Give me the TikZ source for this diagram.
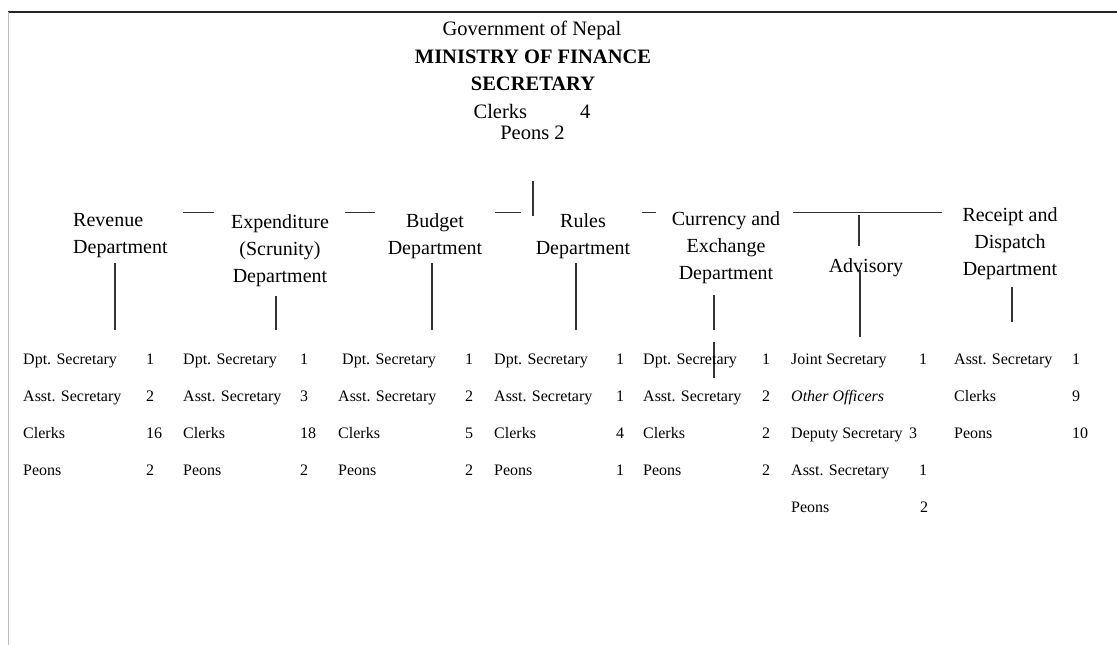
\documentclass[tikz,border=0pt]{standalone}
\usepackage{fontspec}
\setmainfont{Liberation Serif}
\usetikzlibrary{positioning}

\tikzset{
  orgline/.style={line width=1.1pt, black!80},
  headtxt/.style={inner sep=0pt, font=\fontsize{20.5}{27}\selectfont},
  depttxt/.style={inner sep=0pt, align=center, font=\fontsize{20}{27}\selectfont},
  cell/.style={anchor=west, inner sep=0pt, text height=11pt, text depth=3.5pt,
               font=\fontsize{16}{19}\selectfont},
}

\begin{document}
\begin{tikzpicture}[x=1pt, y=-1pt]
  \useasboundingbox (0,0) rectangle (1117,645);
  % page frame
  \draw[black!85, line width=1.4pt] (8,12) -- (1117,12);
  \draw[black!25, line width=0.8pt] (8,12) -- (8,645);

  % head office
  \node[headtxt] (gov) at (532,30) {Government of Nepal};
  \node[headtxt, font=\fontsize{20.5}{27}\selectfont\bfseries] (mof) at (533,56.5) {MINISTRY OF FINANCE};
  \node[headtxt, font=\fontsize{20.5}{27}\selectfont\bfseries] (secy) at (533,84) {SECRETARY};
  \node[headtxt] (secclerks) at (532,111.5) {Clerks\hspace{53pt}4};
  \node[headtxt] (secpeons) at (532.5,132.5) {Peons 2};

  % departments
  \node[depttxt, align=left, anchor=west] (rev) at (73,236) {Revenue\\Department};
  \node[depttxt] (exp) at (280,250.5) {Expenditure\\(Scrunity)\\Department};
  \node[depttxt] (bud) at (435,236) {Budget\\Department};
  \node[depttxt] (rul) at (583,236) {Rules\\Department};
  \node[depttxt] (cur) at (726,247.5) {Currency and\\Exchange\\Department};
  \node[depttxt] (adv) at (866,267.5) {Advisory};
  \node[depttxt] (rec) at (1010,243.5) {Receipt and\\Dispatch\\Department};

  % spine and broken cross line
  \coordinate (spine-top) at (533,181);
  \coordinate (spine-bot) at (533,216);
  \draw[orgline] (spine-top) -- (spine-bot);
  \foreach \a/\b in {183/214, 345/375, 495/521, 642/656, 793/942}
    \draw[orgline] (\a,212.5) -- (\b,212.5);

  % drops to the staff lists
  \foreach \n/\x/\ya/\yb in {rev/115/263/330, exp/276/296/330, bud/432/263/330,
      rul/576/263/330, cur/714/295/330, curb/714/342/378, adv/859/215/246,
      advb/860/270/337, rec/1012/287/322}{
    \coordinate (\n-top) at (\x,\ya);
    \coordinate (\n-bot) at (\x,\yb);
    \draw[orgline] (\n-top) -- (\n-bot);
  }

  % staff lists
  \foreach \lab/\num [count=\i] in {Dpt. Secretary/1, Asst. Secretary/2, Clerks/16, Peons/2}{
    \node[cell] (rev-l\i) at (23,{361+37*(\i-1)}) {\lab};
    \node[cell] (rev-n\i) at (146,{361+37*(\i-1)}) {\num};
  }
  \foreach \lab/\num [count=\i] in {Dpt. Secretary/1, Asst. Secretary/3, Clerks/18, Peons/2}{
    \node[cell] (exp-l\i) at (183,{361+37*(\i-1)}) {\lab};
    \node[cell] (exp-n\i) at (300,{361+37*(\i-1)}) {\num};
  }
  \foreach \lab/\num [count=\i] in {\hspace{4pt}Dpt. Secretary/1, Asst. Secretary/2, Clerks/5, Peons/2}{
    \node[cell] (bud-l\i) at (338,{361+37*(\i-1)}) {\lab};
    \node[cell] (bud-n\i) at (465,{361+37*(\i-1)}) {\num};
  }
  \foreach \lab/\num [count=\i] in {Dpt. Secretary/1, Asst. Secretary/1, Clerks/4, Peons/1}{
    \node[cell] (rul-l\i) at (494,{361+37*(\i-1)}) {\lab};
    \node[cell] (rul-n\i) at (616,{361+37*(\i-1)}) {\num};
  }
  \foreach \lab/\num [count=\i] in {Dpt. Secretary/1, Asst. Secretary/2, Clerks/2, Peons/2}{
    \node[cell] (cur-l\i) at (643,{361+37*(\i-1)}) {\lab};
    \node[cell] (cur-n\i) at (762,{361+37*(\i-1)}) {\num};
  }
  \foreach \lab/\num/\nx [count=\i] in {Joint Secretary/1/919, {\itshape Other Officers}/{}/919,
      Deputy Secretary/3/909, Asst. Secretary/1/919, Peons/2/920}{
    \node[cell] (adv-l\i) at (791,{361+37*(\i-1)}) {\lab};
    \node[cell] (adv-n\i) at (\nx,{361+37*(\i-1)}) {\num};
  }
  \foreach \lab/\num [count=\i] in {Asst. Secretary/1, Clerks/9, Peons/10}{
    \node[cell] (rec-l\i) at (954,{361+37*(\i-1)}) {\lab};
    \node[cell] (rec-n\i) at (1072,{361+37*(\i-1)}) {\num};
  }
\end{tikzpicture}
\end{document}
